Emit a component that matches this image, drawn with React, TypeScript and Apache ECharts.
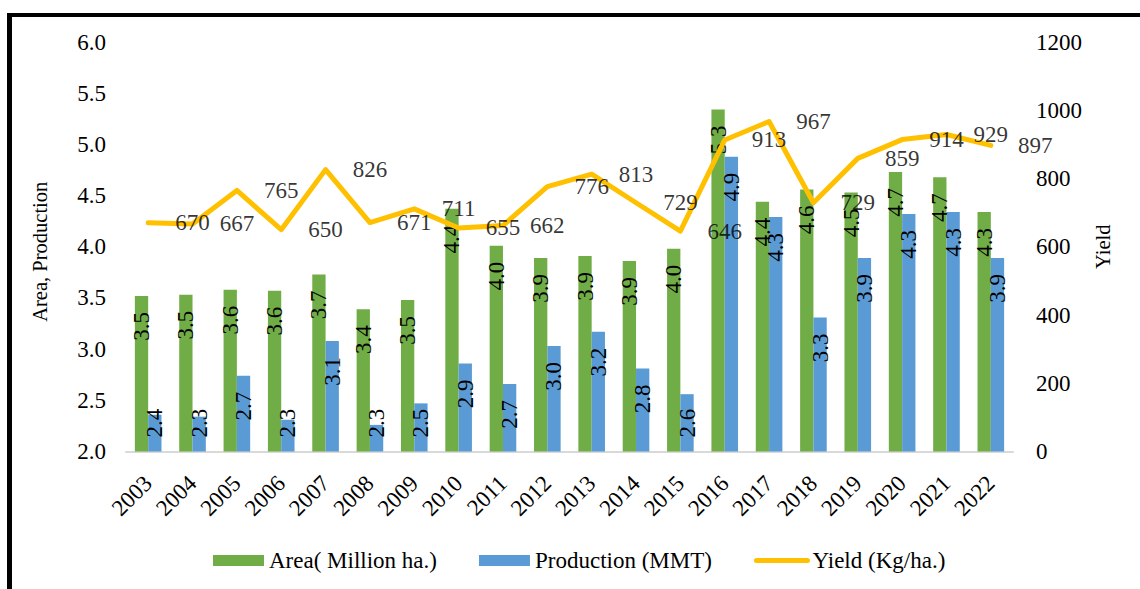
import React, { useEffect, useRef } from "react";
import * as echarts from "echarts";

const years = ["2003","2004","2005","2006","2007","2008","2009","2010","2011","2012","2013","2014","2015","2016","2017","2018","2019","2020","2021","2022"];
const area = [3.52,3.53,3.58,3.57,3.73,3.39,3.48,4.37,4.01,3.89,3.91,3.86,3.98,5.34,4.44,4.56,4.53,4.73,4.68,4.34];
const production = [2.36,2.34,2.74,2.31,3.08,2.26,2.47,2.86,2.66,3.03,3.17,2.81,2.56,4.88,4.29,3.31,3.89,4.32,4.34,3.89];
const yieldKg = [670,667,765,650,826,671,711,655,662,776,813,729,646,913,967,729,859,914,929,897];

const FONT = "'Liberation Serif', 'Times New Roman', serif";
const FS = 23;

function barData(vals: number[]) {
  return vals.map((v) =>
    v < 2.6
      ? { value: v, label: { position: "insideBottom", align: "left", distance: 14 } }
      : { value: v }
  );
}

const barLabel = {
  show: true,
  rotate: 90,
  position: "insideTop",
  align: "right",
  verticalAlign: "middle",
  distance: 16,
  color: "#000",
  fontFamily: FONT,
  fontSize: FS,
  formatter: (p: any) => Number(p.value).toFixed(1),
};

export default function App() {
  const ref = useRef<HTMLDivElement>(null);
  useEffect(() => {
    if (!ref.current) return;
    const chart = echarts.init(ref.current, undefined, { renderer: "svg" });
    chart.setOption({
      animation: false,
      backgroundColor: "#fff",
      textStyle: { fontFamily: FONT, color: "#000" },
      grid: { left: 126, right: 127, top: 42, bottom: 137.5, containLabel: false },
      legend: {
        data: [
          { name: "Area( Million ha.)", icon: "rect" },
          { name: "Production (MMT)", icon: "rect" },
          { name: "Yield (Kg/ha.)", itemStyle: { opacity: 0 }, lineStyle: { color: "#FFC000", width: 5, cap: "round" } },
        ],
        left: 208,
        top: 544,
        itemWidth: 51,
        itemHeight: 11,
        itemGap: 42,
        textStyle: { fontFamily: FONT, fontSize: FS, color: "#000" },
      },
      xAxis: [
        {
          type: "category",
          data: years,
          axisLine: { lineStyle: { color: "#D9D9D9", width: 2 } },
          axisTick: { show: false },
          axisLabel: { rotate: 45, fontFamily: FONT, fontSize: FS, color: "#000", margin: 28, interval: 0 },
        },
        {
          type: "value",
          min: -0.5,
          max: 19.5,
          show: false,
        },
      ],
      yAxis: [
        {
          type: "value",
          min: 2,
          max: 6,
          interval: 0.5,
          name: "Area, Production",
          nameLocation: "middle",
          nameGap: 76,
          nameTextStyle: { fontFamily: FONT, fontSize: 20.5, color: "#000", padding: [0, 10, 0, 0] },
          axisLine: { show: false },
          axisTick: { show: false },
          splitLine: { show: false },
          axisLabel: { fontFamily: FONT, fontSize: FS, color: "#000", margin: 20, formatter: (v: number) => v.toFixed(1) },
        },
        {
          type: "value",
          min: 0,
          max: 1200,
          interval: 200,
          name: "Yield",
          nameLocation: "middle",
          nameGap: 78,
          nameTextStyle: { fontFamily: FONT, fontSize: 20.5, color: "#000" },
          axisLine: { show: false },
          axisTick: { show: false },
          splitLine: { show: false },
          axisLabel: { fontFamily: FONT, fontSize: FS, color: "#000", margin: 23, formatter: (v: number) => String(v) },
        },
      ],
      series: [
        {
          name: "Area( Million ha.)",
          type: "bar",
          data: barData(area),
          barGap: "0%",
          barCategoryGap: "40%",
          itemStyle: { color: "#70AD47" },
          label: barLabel,
        },
        {
          name: "Production (MMT)",
          type: "bar",
          data: barData(production),
          itemStyle: { color: "#5B9BD5" },
          label: barLabel,
        },
        {
          name: "Yield (Kg/ha.)",
          type: "line",
          yAxisIndex: 1,
          data: yieldKg,
          symbol: "none",
          lineStyle: { color: "#FFC000", width: 5, join: "round", cap: "round" },
          itemStyle: { color: "#FFC000" },
          z: 3,
        },
        {
          name: "yieldLabels",
          type: "scatter",
          xAxisIndex: 1,
          yAxisIndex: 1,
          data: yieldKg.map((v, i) => [i + 1, v]),
          symbolSize: 0,
          clip: false,
          silent: true,
          z: 4,
          label: {
            show: true,
            position: "inside",
            color: "#000",
            fontFamily: FONT,
            fontSize: FS,
            formatter: (p: any) => String(p.value[1]),
          },
        },
      ],
      graphic: [
        { type: "rect", shape: { x: 7, y: 13, width: 1133, height: 4 }, style: { fill: "#000" }, silent: true },
        { type: "rect", shape: { x: 7, y: 13, width: 5, height: 576 }, style: { fill: "#000" }, silent: true },
      ],
    });
    return () => chart.dispose();
  }, []);
  return (
    <div
      ref={ref}
      style={{ position: "fixed", left: 0, top: 0, width: 1140, height: 589 }}
    />
  );
}
